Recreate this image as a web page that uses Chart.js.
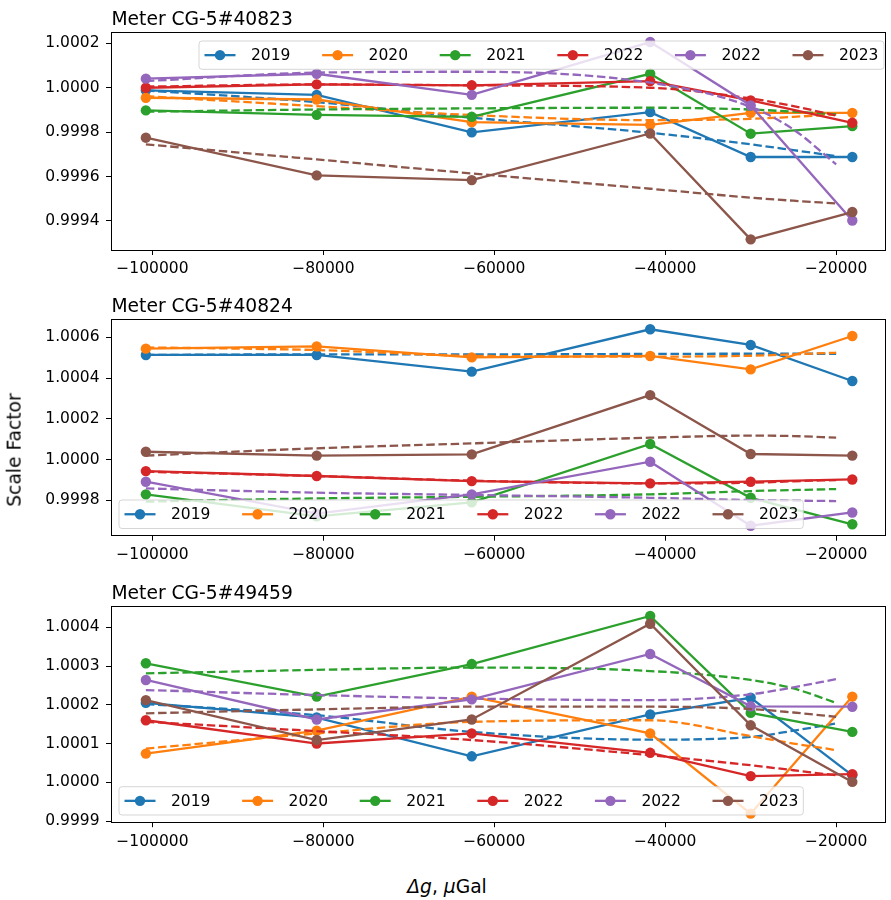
<!DOCTYPE html>
<html>
<head>
<meta charset="utf-8">
<script src="https://cdn.jsdelivr.net/npm/chart.js@4.4.1/dist/chart.umd.min.js"></script>
<style>
  html, body { margin: 0; padding: 0; background: #fff; }
  #wrap { position: relative; width: 891px; height: 900px; overflow: hidden; font-family: "DejaVu Sans", sans-serif; }
  .pane { position: absolute; left: 0; width: 891px; }
  .lbl { position: absolute; font-size: 18.7px; color: #000; white-space: nowrap; line-height: 1; }
</style>
</head>
<body>
<div id="wrap">
  <div class="pane" style="top:0px;height:290px"><canvas id="c1" width="891" height="290"></canvas></div>
  <div class="pane" style="top:280px;height:300px"><canvas id="c2" width="891" height="300"></canvas></div>
  <div class="pane" style="top:565px;height:300px"><canvas id="c3" width="891" height="300"></canvas></div>
  <div class="lbl" style="left:15px;top:450px;transform:translate(-50%,-50%) rotate(-90deg)">Scale Factor</div>
  <div class="lbl" style="left:447px;top:887px;transform:translate(-50%,-50%)"><i>Δg</i>, <i>μ</i>Gal</div>
</div>
<script>
// Survey years (two separate 2022 campaigns) and their colours
const years = ['2019', '2020', '2021', '2022', '2022', '2023'];
const colors = ['#1f77b4', '#ff7f0e', '#2ca02c', '#d62728', '#9467bd', '#8c564b'];

// Gravity difference of the calibration points, µGal
const dgPoints = [-100770, -80780, -62640, -41760, -30000, -18110];
// Abscissae at which the fitted curves are sampled
const fitDg = [-100770, -80780, -62640, -41760, -30000, -25000, -20000];

const xTicks = [-100000, -80000, -60000, -40000, -20000];

// ---- Meter CG-5#40823 ----
const sf40823_2019  = [0.999988, 0.999968, 0.999799, 0.999890, 0.999688, 0.999688];
const sf40823_2020  = [0.999955, 0.999947, 0.999845, 0.999833, 0.999887, 0.999887];
const sf40823_2021  = [0.999898, 0.999878, 0.999869, 1.000063, 0.999793, 0.999827];
const sf40823_2022a = [1.000000, 1.000015, 1.000011, 1.000030, 0.999943, 0.999842];
const sf40823_2022b = [1.000041, 1.000063, 0.999968, 1.000206, 0.999920, 0.999402];
const sf40823_2023  = [0.999775, 0.999605, 0.999584, 0.999794, 0.999317, 0.999440];

const fit40823_2019  = [0.999988, 0.999935, 0.999865, 0.999797, 0.999745, 0.999719, 0.999692];
const fit40823_2020  = [0.999962, 0.999917, 0.999877, 0.999854, 0.999860, 0.999869, 0.999880];
const fit40823_2021  = [0.999892, 0.999902, 0.999907, 0.999910, 0.999902, 0.999892, 0.999880];
const fit40823_2022a = [1.000005, 1.000015, 1.000011, 1.000000, 0.999952, 0.999917, 0.999875];
const fit40823_2022b = [1.000030, 1.000068, 1.000072, 1.000023, 0.999914, 0.999812, 0.999655];
const fit40823_2023  = [0.999745, 0.999677, 0.999614, 0.999545, 0.999505, 0.999491, 0.999479];

const yTicks40823 = [0.9994, 0.9996, 0.9998, 1.0000, 1.0002];

// ---- Meter CG-5#40824 ----
const sf40824_2019  = [1.000514, 1.000514, 1.000432, 1.000640, 1.000563, 1.000386];
const sf40824_2020  = [1.000545, 1.000556, 1.000502, 1.000509, 1.000443, 1.000607];
const sf40824_2021  = [0.999830, 0.999722, 0.999791, 1.000077, 0.999813, 0.999683];
const sf40824_2022a = [0.999944, 0.999920, 0.999895, 0.999884, 0.999892, 0.999903];
const sf40824_2022b = [0.999892, 0.999735, 0.999830, 0.999990, 0.999676, 0.999741];
const sf40824_2023  = [1.000039, 1.000020, 1.000026, 1.000317, 1.000028, 1.000020];

const fit40824_2019  = [1.000514, 1.000517, 1.000517, 1.000519, 1.000520, 1.000520, 1.000520];
const fit40824_2020  = [1.000551, 1.000538, 1.000510, 1.000506, 1.000510, 1.000517, 1.000525];
const fit40824_2021  = [0.999794, 0.999810, 0.999818, 0.999830, 0.999846, 0.999851, 0.999856];
const fit40824_2022a = [0.999941, 0.999920, 0.999897, 0.999884, 0.999887, 0.999894, 0.999900];
const fit40824_2022b = [0.999859, 0.999838, 0.999827, 0.999813, 0.999802, 0.999799, 0.999797];
const fit40824_2023  = [1.000020, 1.000056, 1.000080, 1.000108, 1.000118, 1.000116, 1.000108];

const yTicks40824 = [0.9998, 1.0000, 1.0002, 1.0004, 1.0006];

// ---- Meter CG-5#49459 ----
const sf49459_2019  = [1.000205, 1.000167, 1.000067, 1.000175, 1.000218, 1.000018];
const sf49459_2020  = [1.000074, 1.000133, 1.000221, 1.000126, 0.999919, 1.000221];
const sf49459_2021  = [1.000307, 1.000221, 1.000305, 1.000429, 1.000179, 1.000130];
const sf49459_2022a = [1.000160, 1.000100, 1.000126, 1.000076, 1.000016, 1.000021];
const sf49459_2022b = [1.000264, 1.000162, 1.000214, 1.000331, 1.000196, 1.000195];
const sf49459_2023  = [1.000212, 1.000109, 1.000162, 1.000409, 1.000147, 1.000001];

const fit49459_2019  = [1.000202, 1.000173, 1.000130, 1.000110, 1.000117, 1.000133, 1.000152];
const fit49459_2020  = [1.000087, 1.000126, 1.000156, 1.000160, 1.000119, 1.000100, 1.000083];
const fit49459_2021  = [1.000281, 1.000290, 1.000296, 1.000287, 1.000264, 1.000242, 1.000205];
const fit49459_2022a = [1.000156, 1.000132, 1.000109, 1.000070, 1.000044, 1.000031, 1.000018];
const fit49459_2022b = [1.000238, 1.000225, 1.000216, 1.000212, 1.000227, 1.000245, 1.000266];
const fit49459_2023  = [1.000178, 1.000188, 1.000195, 1.000195, 1.000189, 1.000180, 1.000169];

const yTicks49459 = [0.9999, 1.0000, 1.0001, 1.0002, 1.0003, 1.0004];

Chart.defaults.font.family = '"DejaVu Sans", sans-serif';
Chart.defaults.font.size = 15.5;
Chart.defaults.color = '#000';

const LW = 2.3;
const MR = 5.2;

// Spines, panel title and the framed legend drawn over the data
const panelDecor = {
  id: 'panelDecor',
  afterDatasetsDraw(chart, args, opts) {
    const ctx = chart.ctx;
    const a = chart.chartArea;
    ctx.save();
    const L = Math.floor(a.left) + 0.5, R = Math.floor(a.right) + 0.5;
    const T = Math.floor(a.top) + 0.5, B = Math.floor(a.bottom) + 0.5;
    ctx.strokeStyle = '#000';
    ctx.lineWidth = 1;
    ctx.strokeRect(L, T, R - L, B - T);

    ctx.fillStyle = '#000';
    ctx.font = '18.7px "DejaVu Sans"';
    ctx.textAlign = 'left';
    ctx.textBaseline = 'alphabetic';
    ctx.fillText(opts.title, a.left + 0.5, a.top - 7.5);

    const b = opts.box;
    const r = 3;
    ctx.beginPath();
    ctx.moveTo(b.x + r, b.y);
    ctx.arcTo(b.x + b.w, b.y, b.x + b.w, b.y + b.h, r);
    ctx.arcTo(b.x + b.w, b.y + b.h, b.x, b.y + b.h, r);
    ctx.arcTo(b.x, b.y + b.h, b.x, b.y, r);
    ctx.arcTo(b.x, b.y, b.x + b.w, b.y, r);
    ctx.closePath();
    ctx.fillStyle = 'rgba(255,255,255,0.8)';
    ctx.fill();
    ctx.strokeStyle = 'rgba(204,204,204,0.8)';
    ctx.lineWidth = 1;
    ctx.stroke();

    const cy = b.y + b.h / 2;
    ctx.font = '15.5px "DejaVu Sans"';
    ctx.textBaseline = 'middle';
    years.forEach((yr, i) => {
      const x0 = b.x + 5.5 + i * 117.6;
      ctx.strokeStyle = colors[i];
      ctx.lineWidth = LW;
      ctx.beginPath();
      ctx.moveTo(x0, cy);
      ctx.lineTo(x0 + 31, cy);
      ctx.stroke();
      ctx.fillStyle = colors[i];
      ctx.beginPath();
      ctx.arc(x0 + 15.5, cy, MR, 0, Math.PI * 2);
      ctx.fill();
      ctx.fillStyle = '#000';
      ctx.fillText(yr, x0 + 46.5, cy + 1);
    });
    ctx.restore();
  }
};

function buildDatasets(series, fits) {
  const ds = [];
  series.forEach((vals, i) => {
    ds.push({
      data: dgPoints.map((x, k) => ({ x: x, y: vals[k] })),
      borderColor: colors[i],
      backgroundColor: colors[i],
      borderWidth: LW,
      pointRadius: MR,
      pointBorderWidth: 0,
      pointHoverRadius: MR,
      tension: 0
    });
    ds.push({
      data: fitDg.map((x, k) => ({ x: x, y: fits[i][k] })),
      borderColor: colors[i],
      borderWidth: LW,
      borderDash: [8.5, 3.7],
      pointRadius: 0,
      cubicInterpolationMode: 'monotone'
    });
  });
  ds.forEach((d, k) => { d.order = -k; });
  return ds;
}

function makePanel(id, opt) {
  new Chart(document.getElementById(id), {
    type: 'line',
    data: { datasets: buildDatasets(opt.series, opt.fits) },
    options: {
      responsive: false,
      animation: false,
      events: [],
      layout: { padding: { top: opt.padTop, right: 1, left: 0, bottom: 0 } },
      plugins: {
        legend: { display: false },
        tooltip: { enabled: false },
        panelDecor: { title: opt.title, box: opt.box }
      },
      scales: {
        x: {
          type: 'linear',
          min: -104850,
          max: -14190,
          border: { display: false },
          grid: { drawOnChartArea: false, drawTicks: true, tickLength: 5, tickColor: '#000', tickWidth: 1 },
          ticks: {
            padding: 5,
            maxRotation: 0,
            callback: v => (v < 0 ? '\u2212' + Math.abs(v) : String(v))
          },
          afterBuildTicks: s => { s.ticks = xTicks.map(v => ({ value: v })); },
          afterFit: s => { s.height = opt.xAxisH; }
        },
        y: {
          type: 'linear',
          min: opt.yMin,
          max: opt.yMax,
          border: { display: false },
          grid: { drawOnChartArea: false, drawTicks: true, tickLength: 5, tickColor: '#000', tickWidth: 1 },
          ticks: { padding: 6.5, callback: v => v.toFixed(4) },
          afterBuildTicks: s => { s.ticks = opt.yTicks.map(v => ({ value: v })); },
          afterFit: s => { s.width = 111; }
        }
      }
    },
    plugins: [panelDecor]
  });
}

makePanel('c1', {
  title: 'Meter CG-5#40823',
  series: [sf40823_2019, sf40823_2020, sf40823_2021, sf40823_2022a, sf40823_2022b, sf40823_2023],
  fits: [fit40823_2019, fit40823_2020, fit40823_2021, fit40823_2022a, fit40823_2022b, fit40823_2023],
  yTicks: yTicks40823,
  yMin: 0.999269, yMax: 1.000248,
  padTop: 32.7, xAxisH: 40,
  box: { x: 199, y: 41, w: 685, h: 28.3 }
});

makePanel('c2', {
  title: 'Meter CG-5#40824',
  series: [sf40824_2019, sf40824_2020, sf40824_2021, sf40824_2022a, sf40824_2022b, sf40824_2023],
  fits: [fit40824_2019, fit40824_2020, fit40824_2021, fit40824_2022a, fit40824_2022b, fit40824_2023],
  yTicks: yTicks40824,
  yMin: 0.999627, yMax: 1.000687,
  padTop: 39.7, xAxisH: 44.3,
  box: { x: 119, y: 220, w: 684.3, h: 28.5 }
});

makePanel('c3', {
  title: 'Meter CG-5#49459',
  series: [sf49459_2019, sf49459_2020, sf49459_2021, sf49459_2022a, sf49459_2022b, sf49459_2023],
  fits: [fit49459_2019, fit49459_2020, fit49459_2021, fit49459_2022a, fit49459_2022b, fit49459_2023],
  yTicks: yTicks49459,
  yMin: 0.999897, yMax: 1.000453,
  padTop: 41.7, xAxisH: 42.8,
  box: { x: 119, y: 221.7, w: 684.3, h: 28.3 }
});
</script>
</body>
</html>
